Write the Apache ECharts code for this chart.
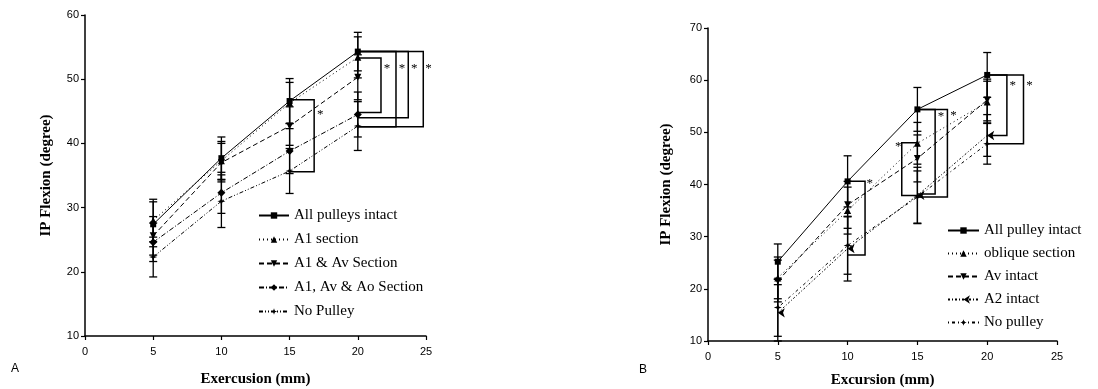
<!DOCTYPE html>
<html>
<head>
<meta charset="utf-8">
<script src="https://cdn.jsdelivr.net/npm/echarts@6/dist/echarts.min.js"></script>
<style>html,body{margin:0;padding:0;background:#fff;}#c{width:1098px;height:389px;}</style>
</head>
<body>
<div id="c"></div>
<script>
// ---------- data ----------
const excursion = [5, 10, 15, 20];
const xTicksA = [0, 5, 10, 15, 20, 25];
const yTicksA = [10, 20, 30, 40, 50, 60];
const yTicksB = [10, 20, 30, 40, 50, 60, 70];

// Panel A
const namesA = ['All pulleys intact', 'A1 section', 'A1 & Av Section', 'A1, Av & Ao Section', 'No Pulley'];
const allIntactA = [27.4, 37.7, 46.6, 54.3];
const a1SectionA = [28.0, 37.3, 46.3, 53.4];
const a1AvSectionA = [25.6, 37.0, 42.7, 50.3];
const a1AvAoSectionA = [24.6, 32.3, 38.8, 44.5];
const noPulleyA = [22.3, 31.0, 35.7, 42.7];
const errAllIntactA = [3.5, 3.3, 3.5, 3.0];
const errA1SectionA = [3.3, 3.0, 3.2, 3.2];
const errA1AvSectionA = [3.0, 3.0, 3.0, 3.5];
const errA1AvAoSectionA = [3.0, 3.2, 3.5, 3.5];
const errNoPulleyA = [3.1, 4.1, 3.5, 3.8];
// significance brackets: [x start, y top, x right edge, y bottom]
const bracketsA = [[15, 46.8, 16.8, 35.6], [20, 53.3, 21.7, 44.8], [20, 54.3, 22.8, 42.6], [20, 54.3, 23.7, 44.0], [20, 54.3, 24.8, 42.6]];
const starsA = [[17.0, 44.5], [21.9, 51.6], [23.0, 51.6], [23.9, 51.6], [24.95, 51.6]];

// Panel B
const namesB = ['All pulley intact', 'oblique section', 'Av intact', 'A2 intact', 'No pulley'];
const allIntactB = [25.2, 40.6, 54.4, 61.0];
const obliqueB = [22.1, 35.0, 47.9, 55.8];
const avIntactB = [21.5, 36.1, 45.0, 56.2];
const a2IntactB = [15.4, 27.7, 37.9, 49.4];
const noPulleyB = [16.4, 28.3, 37.6, 47.8];
const errAllIntactB = [3.4, 4.9, 4.2, 4.3];
const errObliqueB = [4.0, 4.5, 4.0, 4.0];
const errAvIntactB = [4.0, 4.5, 4.5, 4.0];
const errA2IntactB = [5.4, 6.2, 5.4, 4.0];
const errNoPulleyB = [5.5, 5.5, 5.0, 3.9];
const bracketsB = [[10, 40.6, 11.25, 26.5], [15, 54.4, 16.27, 38.2], [15, 54.4, 17.15, 37.6], [15, 48.0, 13.88, 37.9], [20, 61.0, 21.41, 49.4], [20, 61.0, 22.6, 47.8]];
const starsB = [[11.35, 40.2], [13.4, 47.2], [16.45, 53.1], [17.35, 53.3], [21.6, 59.0], [22.8, 59.0]];

// ---------- styles ----------
const SERIF = 'Liberation Serif';
const SANS = 'Liberation Sans';
const STAR4 = 'path://M0,-10 L2.5,-2.5 L10,0 L2.5,2.5 L0,10 L-2.5,2.5 L-10,0 L-2.5,-2.5 Z';
const lineStyles = [
  {type: 'solid', sym: 'rect', rot: 0, size: 6},
  {type: [1, 3], sym: 'triangle', rot: 0, size: 7},
  {type: [5, 3], sym: 'triangle', rot: 180, size: 7},
  {type: [5, 2, 1, 2], sym: 'diamond', rot: 0, size: 8},
  {type: [4, 2, 1, 2, 1, 2], sym: STAR4, rot: 0, size: 8}
];
const lineStylesB = [
  {type: 'solid', sym: 'rect', rot: 0, size: 6},
  {type: [1, 3], sym: 'triangle', rot: 0, size: 7},
  {type: [5, 3], sym: 'triangle', rot: 180, size: 7},
  {type: [2, 2, 1, 2], sym: 'arrow', rot: 90, size: 7},
  {type: [1, 3, 3, 3], sym: STAR4, rot: 0, size: 8}
];

function zip(vals) { return excursion.map((x, i) => [x, vals[i]]); }
function errData(valsList, errList) {
  const out = [];
  valsList.forEach((vals, s) => {
    vals.forEach((v, i) => out.push([excursion[i], v - errList[s][i], v + errList[s][i]]));
  });
  return out;
}

function renderErr(params, api) {
  const x = api.value(0), lo = api.value(1), hi = api.value(2);
  const a = api.coord([x, lo]), b = api.coord([x, hi]);
  const w = 4;
  const st = {stroke: '#000', lineWidth: 1.3};
  return {type: 'group', children: [
    {type: 'line', shape: {x1: a[0], y1: a[1], x2: b[0], y2: b[1]}, style: st},
    {type: 'line', shape: {x1: a[0] - w, y1: a[1], x2: a[0] + w, y2: a[1]}, style: st},
    {type: 'line', shape: {x1: b[0] - w, y1: b[1], x2: b[0] + w, y2: b[1]}, style: st}
  ]};
}
function renderBracket(params, api) {
  const x0 = api.value(0), yt = api.value(1), xr = api.value(2), yb = api.value(3);
  const p1 = api.coord([x0, yt]), p2 = api.coord([xr, yt]), p3 = api.coord([xr, yb]), p4 = api.coord([x0, yb]);
  return {type: 'polyline', shape: {points: [p1, p2, p3, p4]}, style: {stroke: '#000', lineWidth: 1.5, fill: null}};
}
function renderStar(params, api) {
  const p = api.coord([api.value(0), api.value(1)]);
  return {type: 'text', x: p[0], y: p[1], style: {text: '*', font: '13px ' + SERIF, fill: '#000', align: 'left', verticalAlign: 'middle'}};
}

function lineSeries(name, vals, st, idx) {
  return {
    type: 'line', name: name, data: zip(vals), xAxisIndex: idx, yAxisIndex: idx,
    symbol: st.sym, symbolRotate: st.rot, symbolSize: st.size,
    lineStyle: {color: '#000', width: 1, type: st.type},
    itemStyle: {color: '#000'}, z: 3, animation: false
  };
}

const axisCommon = {
  axisLine: {show: true, lineStyle: {color: '#000', width: 1.5}},
  axisTick: {show: true, inside: false, length: 4, lineStyle: {color: '#000', width: 1.2}},
  axisLabel: {color: '#000', fontFamily: SANS, fontSize: 11, margin: 6},
  splitLine: {show: false},
  nameLocation: 'middle',
  nameTextStyle: {color: '#000', fontFamily: SERIF, fontWeight: 'bold', fontSize: 15}
};
const xLabel = {color: '#000', fontFamily: SANS, fontSize: 11, margin: 10};

const seriesA = [allIntactA, a1SectionA, a1AvSectionA, a1AvAoSectionA, noPulleyA];
const errsA = [errAllIntactA, errA1SectionA, errA1AvSectionA, errA1AvAoSectionA, errNoPulleyA];
const seriesB = [allIntactB, obliqueB, avIntactB, a2IntactB, noPulleyB];
const errsB = [errAllIntactB, errObliqueB, errAvIntactB, errA2IntactB, errNoPulleyB];

const series = [];
seriesA.forEach((v, i) => series.push(lineSeries(namesA[i], v, lineStyles[i], 0)));
seriesB.forEach((v, i) => series.push(lineSeries(namesB[i], v, lineStylesB[i], 1)));
series.push({type: 'custom', xAxisIndex: 0, yAxisIndex: 0, renderItem: renderErr, data: errData(seriesA, errsA), encode: {x: 0, y: [1, 2]}, z: 2, silent: true, animation: false});
series.push({type: 'custom', xAxisIndex: 1, yAxisIndex: 1, renderItem: renderErr, data: errData(seriesB, errsB), encode: {x: 0, y: [1, 2]}, z: 2, silent: true, animation: false});
series.push({type: 'custom', xAxisIndex: 0, yAxisIndex: 0, renderItem: renderBracket, data: bracketsA, encode: {x: [0, 2], y: [1, 3]}, z: 2, silent: true, animation: false});
series.push({type: 'custom', xAxisIndex: 1, yAxisIndex: 1, renderItem: renderBracket, data: bracketsB, encode: {x: [0, 2], y: [1, 3]}, z: 2, silent: true, animation: false});
series.push({type: 'custom', xAxisIndex: 0, yAxisIndex: 0, renderItem: renderStar, data: starsA, encode: {x: 0, y: 1}, z: 2, silent: true, animation: false});
series.push({type: 'custom', xAxisIndex: 1, yAxisIndex: 1, renderItem: renderStar, data: starsB, encode: {x: 0, y: 1}, z: 2, silent: true, animation: false});

const legendText = {color: '#000', fontFamily: SERIF, fontSize: 15};

const option = {
  backgroundColor: '#fff',
  animation: false,
  grid: [
    {left: 85, top: 15, width: 341, height: 321, containLabel: false, outerBoundsMode: 'none'},
    {left: 708, top: 28, width: 349, height: 313, containLabel: false, outerBoundsMode: 'none'}
  ],
  xAxis: [
    Object.assign({}, axisCommon, {type: 'value', gridIndex: 0, min: xTicksA[0], max: xTicksA[xTicksA.length - 1], interval: 5, name: 'Exercusion (mm)', nameGap: 36, axisLabel: xLabel}),
    Object.assign({}, axisCommon, {type: 'value', gridIndex: 1, min: xTicksA[0], max: xTicksA[xTicksA.length - 1], interval: 5, name: 'Excursion (mm)', nameGap: 32, axisLabel: xLabel})
  ],
  yAxis: [
    Object.assign({}, axisCommon, {type: 'value', gridIndex: 0, min: yTicksA[0], max: yTicksA[yTicksA.length - 1], interval: 10, name: 'IP Flexion (degree)', nameGap: 31}),
    Object.assign({}, axisCommon, {type: 'value', gridIndex: 1, min: yTicksB[0], max: yTicksB[yTicksB.length - 1], interval: 10, name: 'IP Flexion (degree)', nameGap: 34})
  ],
  legend: [
    {data: namesA, orient: 'vertical', left: 253, top: 203, itemWidth: 30, itemHeight: 8, itemGap: 9, textStyle: legendText, selectedMode: false, inactiveColor: '#000'},
    {data: namesB, orient: 'vertical', left: 942, top: 218, itemWidth: 31, itemHeight: 8, itemGap: 8, textStyle: legendText, selectedMode: false, inactiveColor: '#000'}
  ],
  graphic: [
    {type: 'text', left: 11, top: 363, style: {text: 'A', font: '12px ' + SANS, fill: '#000'}},
    {type: 'text', left: 639, top: 364, style: {text: 'B', font: '12px ' + SANS, fill: '#000'}}
  ],
  series: series
};

const chart = echarts.init(document.getElementById('c'), null, {renderer: 'canvas'});
chart.setOption(option);
</script>
</body>
</html>
